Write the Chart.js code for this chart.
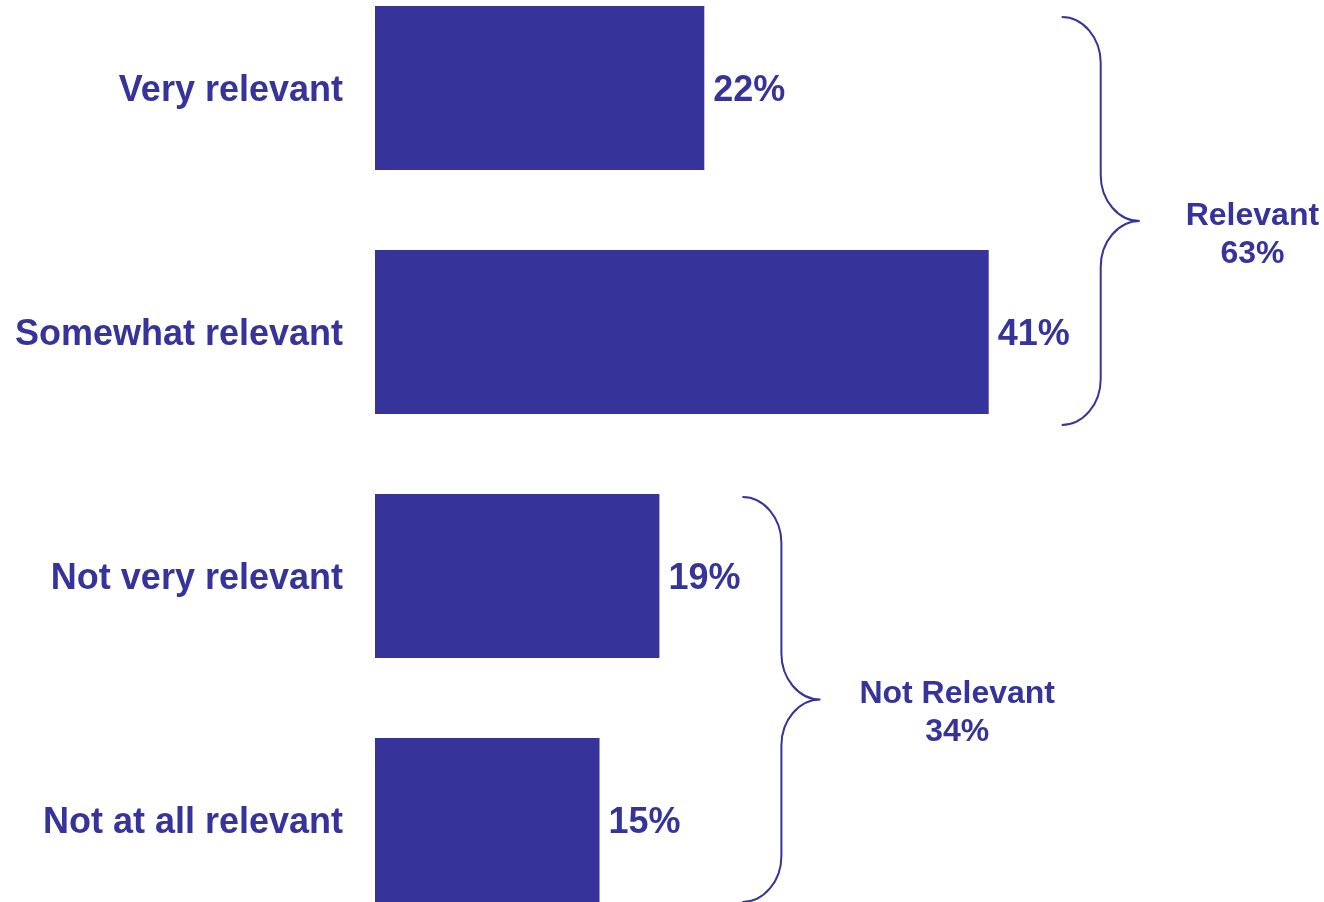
<!DOCTYPE html>
<html>
<head>
<meta charset="utf-8">
<script src="https://cdn.jsdelivr.net/npm/chart.js@4/dist/chart.umd.min.js"></script>
<style>
  html, body { margin: 0; padding: 0; background: #ffffff; overflow: hidden; }
  #wrap { position: absolute; left: 0; top: -34px; width: 1324px; height: 976px; }
</style>
</head>
<body>
<div id="wrap"><canvas id="chart"></canvas></div>
<script>
// Survey answers and their shares (%)
const categories = ['Very relevant', 'Somewhat relevant', 'Not very relevant', 'Not at all relevant'];
const shares = [22, 41, 19, 15];

// Net groupings shown with braces
const groupNames = ['Relevant', 'Not Relevant'];
const groupTotals = [63, 34];
const groupMembers = [[0, 1], [2, 3]];

const INK = '#36349a';
const FONT = '"Liberation Sans", Arial, sans-serif';

// Category names, right-aligned left of the bars
const categoryLabels = {
  id: 'categoryLabels',
  afterDraw(chart) {
    const ctx = chart.ctx;
    const yScale = chart.scales.y;
    ctx.save();
    ctx.fillStyle = INK;
    ctx.font = 'bold 36px ' + FONT;
    ctx.textAlign = 'right';
    ctx.textBaseline = 'middle';
    categories.forEach((name, i) => {
      ctx.fillText(name, yScale.right - 32, yScale.getPixelForTick(i) + 3);
    });
    ctx.restore();
  }
};

// Writes "NN%" just past the end of each bar
const valueLabels = {
  id: 'valueLabels',
  afterDatasetsDraw(chart) {
    const ctx = chart.ctx;
    const meta = chart.getDatasetMeta(0);
    ctx.save();
    ctx.fillStyle = INK;
    ctx.font = 'bold 36px ' + FONT;
    ctx.textAlign = 'left';
    ctx.textBaseline = 'middle';
    meta.data.forEach((bar, i) => {
      ctx.fillText(shares[i] + '%', bar.x + 9, bar.y + 3);
    });
    ctx.restore();
  }
};

// Curly braces grouping the bars, with the net total beside each
const groupBraces = {
  id: 'groupBraces',
  afterDraw(chart, args, opts) {
    const ctx = chart.ctx;
    const meta = chart.getDatasetMeta(0);
    ctx.save();
    ctx.strokeStyle = INK;
    ctx.fillStyle = INK;
    ctx.lineWidth = 2;
    groupMembers.forEach((members, g) => {
      const bars = members.map(i => meta.data[i]);
      const ends = bars.map(b => b.x);
      const first = bars[0], last = bars[bars.length - 1];
      const yTop = first.y - first.height / 2 + opts.topShift[g];
      const yBot = last.y + last.height / 2 + opts.bottomShift[g];
      const x0 = Math.max(...ends) + opts.gap[g];
      const dx = opts.halfWidth;
      const x1 = x0 + dx, x2 = x0 + 2 * dx;
      const r = opts.curve;
      const k = 0.55;
      const yMid = (yTop + yBot) / 2;

      ctx.beginPath();
      ctx.moveTo(x0, yTop);
      ctx.bezierCurveTo(x0 + k * dx, yTop, x1, yTop + r - k * r, x1, yTop + r);
      ctx.lineTo(x1, yMid - r);
      ctx.bezierCurveTo(x1, yMid - r + k * r, x2 - k * dx, yMid, x2, yMid);
      ctx.bezierCurveTo(x2 - k * dx, yMid, x1, yMid + r - k * r, x1, yMid + r);
      ctx.lineTo(x1, yBot - r);
      ctx.bezierCurveTo(x1, yBot - r + k * r, x0 + k * dx, yBot, x0, yBot);
      ctx.stroke();

      const lines = [groupNames[g], groupTotals[g] + '%'];
      ctx.font = 'bold 32px ' + FONT;
      ctx.textAlign = 'center';
      ctx.textBaseline = 'middle';
      const w = Math.max(...lines.map(t => ctx.measureText(t).width));
      const cx = x2 + opts.labelGap[g] + w / 2;
      lines.forEach((t, j) => {
        ctx.fillText(t, cx, yMid - 5 + j * 38);
      });
    });
    ctx.restore();
  }
};

new Chart(document.getElementById('chart'), {
  type: 'bar',
  data: {
    labels: categories,
    datasets: [{
      data: shares,
      backgroundColor: INK,
      borderWidth: 0,
      barPercentage: 0.672,
      categoryPercentage: 1
    }]
  },
  options: {
    indexAxis: 'y',
    responsive: true,
    maintainAspectRatio: false,
    animation: false,
    events: [],
    layout: { padding: 0 },
    plugins: {
      legend: { display: false },
      tooltip: { enabled: false },
      groupBraces: {
        gap: [73, 83],
        topShift: [11, 3],
        bottomShift: [11, 0],
        halfWidth: 39,
        curve: 46,
        labelGap: [46, 39]
      }
    },
    scales: {
      x: {
        display: false,
        min: 0,
        max: 63.4
      },
      y: {
        afterFit(scale) { scale.width = 375; },
        grid: { display: false, drawTicks: false },
        border: { display: false },
        ticks: { display: false }
      }
    }
  },
  plugins: [categoryLabels, valueLabels, groupBraces]
});
</script>
</body>
</html>
